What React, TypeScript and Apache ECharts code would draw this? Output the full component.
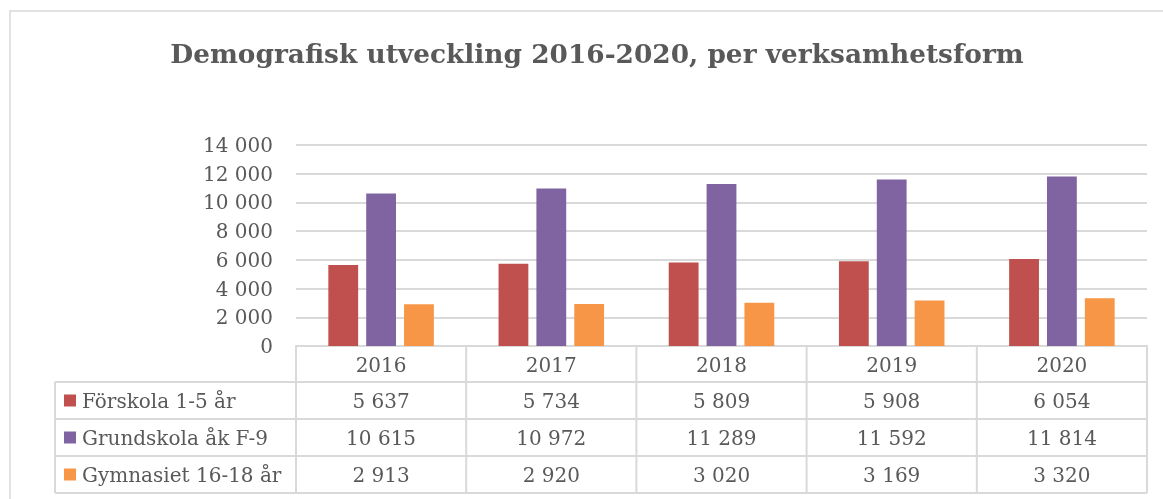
import React, { useEffect, useRef } from "react";
import * as echarts from "echarts";

const years = ["2016", "2017", "2018", "2019", "2020"];
const seriesNames = ["Förskola 1-5 år", "Grundskola åk F-9", "Gymnasiet 16-18 år"];
const forskola = [5637, 5734, 5809, 5908, 6054];
const grundskola = [10615, 10972, 11289, 11592, 11814];
const gymnasiet = [2913, 2920, 3020, 3169, 3320];
const colors = ["#C0504D", "#8064A2", "#F79646"];
const yTicks = [0, 2000, 4000, 6000, 8000, 10000, 12000, 14000];

const W = 1163;
const H = 499;
const FONT = "'DejaVu Serif', serif";
const TXT = "#595959";
const LINE = "#D9D9D9";

const fmt = (v: number) => String(v).replace(/\B(?=(\d{3})+(?!\d))/g, " ");

export default function App() {
  const ref = useRef<HTMLDivElement>(null);
  useEffect(() => {
    if (!ref.current) return;
    const chart = echarts.init(ref.current, null, { renderer: "svg" });
    const gridLeft = 296;
    const gridRight = 1147;
    const gridTop = 145;
    const gridBottomY = 346;
    const headerH = 36;
    const rowH = 37;
    const tableLeft = 55;
    const colW = (gridRight - gridLeft) / years.length;
    const allData = [forskola, grundskola, gymnasiet];

    const graphics: any[] = [];
    graphics.push({
      type: "rect",
      shape: { x: 10, y: 11, width: W + 20, height: H + 20 },
      style: { fill: "none", stroke: LINE, lineWidth: 1.5 },
      silent: true,
    });
    const rowsTop = gridBottomY + headerH;
    const tableBottom = rowsTop + rowH * seriesNames.length;
    for (let i = 0; i <= seriesNames.length; i++) {
      const y = rowsTop + rowH * i;
      graphics.push({
        type: "line",
        shape: { x1: tableLeft, y1: y, x2: gridRight, y2: y },
        style: { stroke: LINE, lineWidth: 2 },
      });
    }
    graphics.push({
      type: "line",
      shape: { x1: tableLeft, y1: rowsTop, x2: tableLeft, y2: tableBottom },
      style: { stroke: LINE, lineWidth: 2 },
    });
    for (let c = 0; c <= years.length; c++) {
      const x = gridLeft + colW * c;
      graphics.push({
        type: "line",
        shape: { x1: x, y1: gridBottomY, x2: x, y2: tableBottom },
        style: { stroke: LINE, lineWidth: 2 },
      });
    }
    seriesNames.forEach((name, r) => {
      const cy = rowsTop + rowH * r + rowH / 2;
      graphics.push({
        type: "rect",
        shape: { x: 64, y: cy - 6, width: 12, height: 12 },
        style: { fill: colors[r] },
      });
      graphics.push({
        type: "text",
        x: 82,
        y: cy,
        style: { text: name, font: `20px ${FONT}`, fill: TXT, textAlign: "left", textVerticalAlign: "middle" },
      });
      allData[r].forEach((v, c) => {
        graphics.push({
          type: "text",
          x: gridLeft + colW * c + colW / 2,
          y: cy,
          style: { text: fmt(v), font: `20px ${FONT}`, fill: TXT, textAlign: "center", textVerticalAlign: "middle" },
        });
      });
    });

    chart.setOption({
      animation: false,
      title: {
        text: "Demografisk utveckling 2016-2020, per verksamhetsform",
        left: 592,
        top: 35,
        textAlign: "center",
        textStyle: { fontFamily: FONT, fontWeight: "bold", fontSize: 26.4, color: TXT },
      },
      grid: { left: gridLeft, right: W - gridRight, top: gridTop, bottom: H - gridBottomY, containLabel: false },
      xAxis: {
        type: "category",
        data: years,
        axisLine: { show: true, lineStyle: { color: LINE, width: 2 } },
        axisTick: { show: false },
        axisLabel: { fontFamily: FONT, fontSize: 20, color: TXT, margin: 9 },
      },
      yAxis: {
        type: "value",
        min: yTicks[0],
        max: yTicks[yTicks.length - 1],
        interval: 2000,
        axisLine: { show: false },
        axisTick: { show: false },
        splitLine: { lineStyle: { color: LINE, width: 2 } },
        axisLabel: { fontFamily: FONT, fontSize: 20, color: TXT, margin: 23, formatter: (v: number) => fmt(v) },
      },
      series: allData.map((d, i) => ({
        type: "bar",
        name: seriesNames[i],
        data: d,
        itemStyle: { color: colors[i] },
        barGap: "27%",
        barCategoryGap: "38%",
      })),
      graphic: graphics,
    });
    return () => chart.dispose();
  }, []);
  return <div ref={ref} style={{ position: "fixed", left: 0, top: 0, width: W, height: H }} />;
}
